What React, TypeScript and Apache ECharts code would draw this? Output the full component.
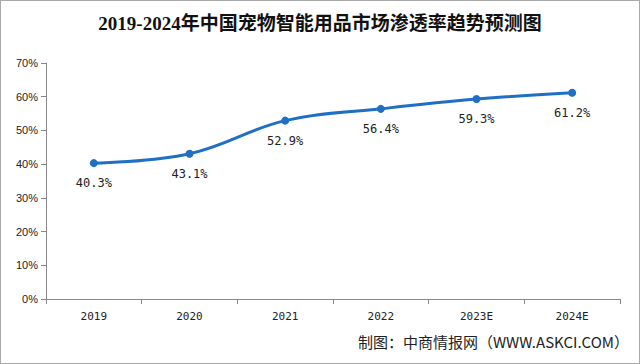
import React, { useEffect, useRef } from "react";
import * as echarts from "echarts";

const categories = ["2019", "2020", "2021", "2022", "2023E", "2024E"];
const penetration = [40.3, 43.1, 52.9, 56.4, 59.3, 61.2];
const titleText = "2019-2024年中国宠物智能用品市场渗透率趋势预测图";
const sourceText = "制图：中商情报网（WWW.ASKCI.COM）";

export default function App() {
  const ref = useRef<HTMLDivElement>(null);
  useEffect(() => {
    if (!ref.current) return;
    const chart = echarts.init(ref.current, null, { renderer: "svg" });
    chart.setOption({
      animation: false,
      backgroundColor: "#ffffff",
      title: {
        text: titleText,
        left: "center",
        top: 8,
        textStyle: {
          fontFamily: "'Liberation Serif', 'Noto Sans CJK SC', serif",
          fontWeight: "bold",
          fontSize: 19,
          color: "#111",
        },
      },
      graphic: [
        {
          type: "text",
          right: 10,
          bottom: 14,
          style: {
            text: sourceText,
            fontSize: 15,
            fontFamily: "'Noto Sans CJK SC', sans-serif",
            fill: "#222",
          },
        },
      ],
      grid: { left: 45, right: 19, top: 62, bottom: 64 },
      xAxis: {
        type: "category",
        data: categories,
        boundaryGap: true,
        axisLine: { lineStyle: { color: "#888", width: 1 } },
        axisTick: { show: true, length: 5, lineStyle: { color: "#888" } },
        axisLabel: {
          fontSize: 11,
          color: "#222",
          margin: 12,
          fontFamily: "'DejaVu Sans Mono', monospace",
        },
      },
      yAxis: {
        type: "value",
        min: 0,
        max: 70,
        interval: 10,
        axisLine: { show: true, lineStyle: { color: "#888", width: 1 } },
        axisTick: { show: true, length: 5, lineStyle: { color: "#888" } },
        splitLine: { show: false },
        axisLabel: {
          formatter: "{value}%",
          fontSize: 11,
          color: "#222",
          margin: 8,
        },
      },
      series: [
        {
          type: "line",
          data: penetration,
          smooth: 0.4,
          symbol: "circle",
          symbolSize: 8,
          lineStyle: { color: "#1f6fc5", width: 3 },
          itemStyle: { color: "#1f6fc5" },
          label: {
            show: true,
            position: "bottom",
            distance: 10,
            formatter: "{c}%",
            fontSize: 12,
            color: "#222",
            fontFamily: "'DejaVu Sans Mono', monospace",
          },
        },
      ],
    });
    return () => chart.dispose();
  }, []);
  return (
    <div
      ref={ref}
      style={{
        position: "fixed",
        left: 0,
        top: 0,
        width: 640,
        height: 364,
        boxSizing: "border-box",
        border: "1px solid #aaa",
      }}
    />
  );
}
